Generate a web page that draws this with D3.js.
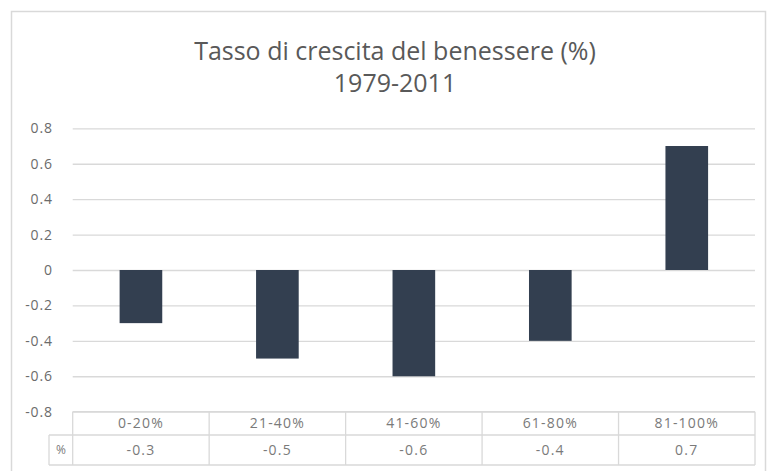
<!DOCTYPE html>
<meta charset="utf-8">
<script src="https://d3js.org/d3.v7.min.js"></script>
<style>
  body { margin: 0; background: #fff; }
  text { font-family: "Open Sans", sans-serif; }
</style>
<div id="chart"></div>
<script>

// data
var categories = ["0-20%", "21-40%", "41-60%", "61-80%", "81-100%"];
var values = [-0.3, -0.5, -0.6, -0.4, 0.7];
var yTicks = [-0.8, -0.6, -0.4, -0.2, 0, 0.2, 0.4, 0.6, 0.8];
var titleLines = ["Tasso di crescita del benessere (%)", "1979-2011"];
var rowLabel = "%";

var W = 769, H = 471;
var plot = {left: 72.7, right: 755, top: 128.3, bottom: 411.7};

var svg = d3.select("#chart").append("svg")
    .attr("width", W)
    .attr("height", H);

// chart frame
svg.append("rect")
    .attr("x", 11.5).attr("y", 11.5)
    .attr("width", 754).attr("height", 480)
    .attr("fill", "#fff")
    .attr("stroke", "#d9d9d9")
    .attr("stroke-width", 1.5);

// title
svg.append("g").selectAll("text")
  .data(titleLines)
  .enter().append("text")
    .attr("x", 395)
    .attr("y", function(d, i) { return 60 + i * 32; })
    .attr("text-anchor", "middle")
    .attr("fill", "#595959")
    .style("font-size", "25px")
    .text(function(d) { return d; });

var x = d3.scaleBand()
  .domain(categories)
  .range([plot.left, plot.right])
  .padding(0);

var y = d3.scaleLinear()
  .domain([-0.8, 0.8])
  .range([plot.bottom, plot.top]);

// y axis + gridlines
var yAxis = svg.append("g")
  .attr("transform", "translate(" + plot.left + ",0)")
  .call(d3.axisLeft(y)
    .tickValues(yTicks)
    .tickSize(-(plot.right - plot.left))
    .tickPadding(20)
    .tickFormat(function(d) { return d === 0 ? "0" : d.toFixed(1); }));
yAxis.select(".domain").remove();
yAxis.selectAll(".tick line")
  .attr("stroke", "#d9d9d9")
  .attr("stroke-width", 1.3);
yAxis.selectAll(".tick text")
  .attr("fill", "#6b6b6b")
  .style("font-size", "14px")
  .style("letter-spacing", "0.8px")
  .style("font-family", "'Open Sans', sans-serif");

// bars
var bw = x.bandwidth() / 3.2;
svg.append("g").selectAll("rect")
  .data(values)
  .enter().append("rect")
    .attr("x", function(d, i) { return x(categories[i]) + (x.bandwidth() - bw) / 2; })
    .attr("y", function(d) { return y(Math.max(0, d)); })
    .attr("width", bw)
    .attr("height", function(d) { return Math.abs(y(d) - y(0)); })
    .attr("fill", "#333f50");

// data table under the plot
var row1 = plot.bottom, row2 = 435, row3 = 465, labelLeft = 49;
var tbl = svg.append("g")
  .attr("stroke", "#d9d9d9")
  .attr("stroke-width", 1.3);

tbl.append("line").attr("x1", plot.left).attr("x2", plot.right).attr("y1", row1).attr("y2", row1);
tbl.append("line").attr("x1", labelLeft).attr("x2", plot.right).attr("y1", row2).attr("y2", row2);
tbl.append("line").attr("x1", labelLeft).attr("x2", plot.right).attr("y1", row3).attr("y2", row3);
tbl.append("line").attr("x1", labelLeft).attr("x2", labelLeft).attr("y1", row2).attr("y2", row3);
tbl.selectAll(".col")
  .data(categories.concat(["end"]))
  .enter().append("line")
    .attr("class", "col")
    .attr("x1", function(d, i) { return plot.left + i * x.bandwidth(); })
    .attr("x2", function(d, i) { return plot.left + i * x.bandwidth(); })
    .attr("y1", row1)
    .attr("y2", row3);

svg.append("g").selectAll("text")
  .data(categories)
  .enter().append("text")
    .attr("x", function(d) { return x(d) + x.bandwidth() / 2; })
    .attr("y", (row1 + row2) / 2)
    .attr("dy", "0.35em")
    .attr("text-anchor", "middle")
    .attr("fill", "#7a7a7a")
    .style("font-size", "14px")
    .style("letter-spacing", "1.2px")
    .text(function(d) { return d; });

svg.append("g").selectAll("text")
  .data(values)
  .enter().append("text")
    .attr("x", function(d, i) { return x(categories[i]) + x.bandwidth() / 2; })
    .attr("y", (row2 + row3) / 2)
    .attr("dy", "0.35em")
    .attr("text-anchor", "middle")
    .attr("fill", "#7a7a7a")
    .style("font-size", "14px")
    .style("letter-spacing", "1.2px")
    .text(function(d) { return String(d); });

svg.append("text")
  .attr("x", (labelLeft + plot.left) / 2)
  .attr("y", (row2 + row3) / 2)
  .attr("dy", "0.35em")
  .attr("text-anchor", "middle")
  .attr("fill", "#7a7a7a")
  .style("font-size", "12px")
  .text(rowLabel);

</script>
